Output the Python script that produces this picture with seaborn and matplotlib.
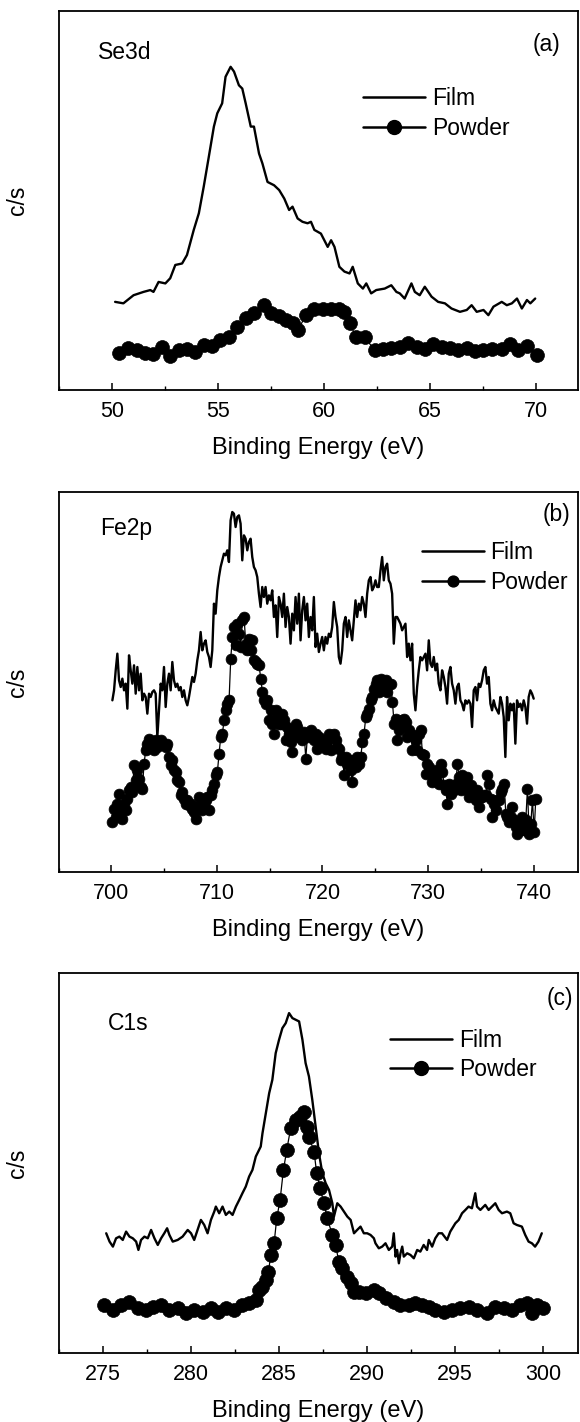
import numpy as np
import matplotlib
matplotlib.use("Agg")
import matplotlib.pyplot as plt
from matplotlib.lines import Line2D
from matplotlib.ticker import MultipleLocator
import seaborn as sns

# ---------------- (a) Se3d ----------------
se_film_energy = [
    50.16, 50.55, 51.03, 51.50, 51.82, 51.97, 52.21, 52.53, 52.76, 53.00,
    53.32, 53.55, 53.87, 54.11, 54.34, 54.58, 54.82, 54.98, 55.21, 55.37,
    55.61, 55.77, 56.00, 56.16, 56.32, 56.56, 56.71, 56.95, 57.11, 57.35,
    57.66, 57.90, 58.14, 58.37, 58.53, 58.77, 59.00, 59.24, 59.40, 59.56,
    59.87, 60.19, 60.35, 60.51, 60.74, 60.98, 61.22, 61.37, 61.61, 61.85,
    62.01, 62.24, 62.48, 62.88, 63.19, 63.43, 63.59, 63.82, 64.14, 64.30,
    64.53, 64.77, 65.09, 65.40, 65.72, 66.03, 66.43, 66.75, 66.98, 67.22,
    67.54, 67.77, 68.01, 68.40, 68.64, 68.88, 69.12, 69.35, 69.59, 69.75,
    69.98,
]
se_film_counts = [
    21.2, 20.8, 23.0, 23.9, 24.4, 23.9, 26.6, 26.2, 27.6, 31.2,
    31.6, 33.9, 40.7, 45.2, 52.4, 60.5, 68.7, 72.3, 75.0, 82.2,
    84.9, 83.6, 79.9, 79.0, 75.0, 68.7, 68.7, 61.4, 58.7, 53.7,
    52.8, 51.5, 49.2, 46.1, 47.0, 43.8, 42.9, 42.5, 42.9, 40.7,
    39.7, 36.1, 37.9, 36.1, 30.7, 29.4, 28.9, 30.7, 26.2, 24.8,
    26.2, 23.5, 24.4, 24.8, 25.7, 23.9, 23.5, 22.1, 26.2, 23.9,
    23.0, 25.3, 22.6, 21.2, 20.8, 19.4, 18.5, 19.0, 20.3, 18.5,
    19.0, 17.6, 19.9, 21.2, 20.3, 20.8, 22.1, 19.4, 21.7, 20.8,
    22.1,
]
se_powder_energy = [
    50.36, 50.79, 51.18, 51.58, 51.97, 52.37, 52.76, 53.16, 53.55, 53.95,
    54.34, 54.74, 55.13, 55.53, 55.92, 56.32, 56.71, 57.19, 57.50, 57.90,
    58.21, 58.53, 58.80, 59.16, 59.56, 59.95, 60.35, 60.74, 60.98, 61.22,
    61.53, 61.93, 62.40, 62.80, 63.19, 63.59, 63.98, 64.38, 64.77, 65.17,
    65.56, 65.96, 66.35, 66.75, 67.14, 67.54, 67.93, 68.40, 68.80, 69.19,
    69.59, 70.06,
]
se_powder_counts = [
    7.4, 8.6, 8.1, 7.4, 7.2, 9.0, 6.5, 8.1, 8.3, 7.7,
    9.5, 9.2, 10.8, 11.7, 14.5, 16.7, 18.1, 20.3, 18.2, 17.3,
    16.4, 15.4, 13.7, 17.6, 19.4, 19.4, 19.4, 19.4, 18.5, 15.5,
    11.7, 11.7, 8.1, 8.3, 8.6, 9.0, 10.1, 9.0, 8.3, 9.9,
    9.0, 8.6, 8.1, 8.6, 7.9, 8.1, 8.3, 8.3, 9.9, 8.1,
    9.2, 6.8,
]

# ---------------- (b) Fe2p (regular energy grid) ----------------
fe_film_start, fe_film_stop = 700.1, 740.0
fe_film_counts = [
    51.5, 54.5, 60.5, 65.5, 57.5, 55.5, 58, 54.5, 56.5, 49, 65, 60.5, 56.5, 62, 53.5, 61.5, 54.5, 59.5, 51.5, 53.5,
    52.5, 47.5, 53.5, 52.5, 54, 54.5, 53.5, 40.5, 48.5, 56.5, 54.5, 61.5, 49.5, 56.5, 59.5, 54.5, 63, 57.5, 55.5, 56.5,
    54.5, 55.5, 52.5, 54.5, 51.5, 50, 52.5, 55.5, 58.5, 57, 59.5, 63.5, 66.5, 72, 66.5, 68.5, 69.5, 66, 64.5, 61.5,
    66.5, 80.5, 77.5, 84.5, 88.5, 91.5, 93.5, 95.5, 95, 96.5, 93, 105.5, 108, 107.5, 103.5, 106.5, 107, 104.5, 93.5, 101,
    100, 96.5, 99, 100, 94.5, 91.5, 90.5, 88.5, 83.5, 79.5, 85.5, 82.5, 85.5, 80.5, 83, 81.5, 84.5, 76.5, 80, 70.5,
    82.5, 80.5, 76.5, 83.5, 73.5, 79.5, 76.5, 68.5, 77.5, 72.5, 82.5, 74.5, 83.5, 69.5, 78.5, 82.5, 75.5, 80.5, 70.5, 76.5,
    72.5, 82.5, 67.5, 71.5, 66, 68.5, 70.5, 66.5, 70.5, 68.5, 71.5, 70.5, 73.5, 81, 76.5, 73.5, 64.5, 62.5, 66.5, 74.5,
    76.5, 70.5, 75.5, 72.5, 69.5, 75.5, 81.5, 76.5, 80.5, 78.5, 82.5, 80.5, 76.5, 83.5, 87.5, 88.5, 84.5, 85.5, 87.5, 85.5,
    85.5, 90.5, 94.5, 87.5, 91.5, 92.5, 87.5, 86.5, 83.5, 68.5, 76.5, 76.5, 75.5, 74.5, 72.5, 73.5, 74.5, 64.5, 68.5, 63.5,
    68.5, 53.5, 48.5, 55.5, 60.5, 64.5, 63.5, 64.5, 65.5, 60.5, 69.5, 62.5, 61.5, 64.5, 60.5, 62.5, 56.5, 54.5, 60.5, 58.5,
    55.5, 50.5, 59.5, 61.5, 56.5, 54.5, 50.5, 55.5, 56.5, 51.5, 50.5, 48.5, 51.5, 50.5, 51.5, 50.5, 43.5, 54.5, 55.5, 51.5,
    56.5, 55.5, 57.5, 60.5, 61.5, 56.5, 58.5, 50.5, 48.5, 51.5, 49.5, 48.5, 47.5, 52.5, 50.5, 46.5, 34.5, 52.5, 45.5, 50.5,
    48.5, 50.5, 38.5, 51.5, 49.5, 50.5, 48.5, 51.5, 49.5, 44.5, 52.5, 54.5, 53.5, 52,
]
fe_powder_start, fe_powder_stop = 700.1, 740.2
fe_powder_counts = [
    15, 19, 16.5, 20.5, 23.5, 18, 16, 20.5, 18.5, 22, 24.5, 25.5, 24, 32, 27.5, 30.5, 28, 25.5, 25, 32.5,
    36.5, 38.5, 40, 37.5, 39, 36.5, 39.5, 37.5, 38.5, 39.5, 38, 38.5, 37.5, 38.5, 34.5, 32, 33.5, 30.5, 30, 27.5,
    27, 23, 24, 22, 20.5, 21.5, 20, 20.5, 19, 18, 16, 19.5, 22.5, 20.5, 18.5, 19.5, 21.5, 22.5, 18.5, 23,
    24.5, 26.5, 29, 30, 35.5, 40.5, 41.5, 45.5, 48.5, 50.5, 51.5, 64, 70.5, 73.5, 68, 74.5, 71.5, 67.5, 75.5, 76.5,
    68.5, 66.5, 70, 66.5, 69.5, 63.5, 63, 62.5, 62, 58, 54, 51.5, 50.5, 51.5, 45.5, 48.5, 44.5, 41.5, 48.5, 46.5,
    44.5, 44.5, 47.5, 45.5, 39.5, 43.5, 41.5, 39, 36, 41.5, 44.5, 43.5, 40.5, 41.5, 39.5, 42, 34, 40.5, 41.5, 42.5,
    40.5, 39.5, 41.5, 37, 40.5, 39, 38.5, 39.5, 37, 39.5, 41.5, 36.5, 40.5, 41.5, 39.5, 37.5, 37, 33.5, 34.5, 29,
    34.5, 32.5, 33.5, 30.5, 27, 33.5, 31.5, 34.5, 32.5, 34.5, 39, 41.5, 46.5, 47.5, 49, 51.5, 52.5, 55, 56.5, 57.5,
    54, 58, 54.5, 56.5, 57.5, 54, 56.5, 56.5, 51, 44.5, 46, 39.5, 42.5, 43.5, 45.5, 46, 45, 40.5, 42.5, 41.5,
    36.5, 40.5, 39.5, 36.5, 41.5, 42.5, 35.5, 35, 29.5, 32.5, 31.5, 30, 27, 28.5, 28, 30.5, 26.5, 32.5, 30, 26,
    24.5, 20.5, 26.5, 23.5, 24.5, 24.5, 26.5, 32.5, 28.5, 24.5, 29, 25, 26.5, 28.5, 22.5, 26, 23, 24.5, 21.5, 24.5,
    19.5, 22.5, 22.5, 23, 23, 29, 26.5, 22, 16.5, 20.5, 18.5, 21.5, 21.5, 24, 25, 26.5, 17.5, 16.5, 15, 16.5,
    19.5, 15.5, 13.5, 11.5, 14.5, 12.5, 16.5, 12.5, 15.5, 25, 11.5, 14.5, 21.5, 12, 22,
]

# ---------------- (c) C1s ----------------
c_film_energy = [
    275.19, 275.38, 275.57, 275.75, 275.94, 276.13, 276.32, 276.51, 276.70, 276.89,
    277.02, 277.17, 277.36, 277.55, 277.74, 277.93, 278.12, 278.31, 278.49, 278.65,
    278.78, 278.97, 279.25, 279.53, 279.82, 280.01, 280.19, 280.38, 280.57, 280.76,
    280.95, 281.14, 281.33, 281.42, 281.61, 281.80, 281.99, 282.18, 282.37, 282.56,
    282.75, 282.93, 283.12, 283.31, 283.50, 283.69, 283.97, 284.07, 284.26, 284.45,
    284.63, 284.82, 285.01, 285.20, 285.39, 285.58, 285.77, 285.96, 286.15, 286.34,
    286.52, 286.71, 286.90, 287.09, 287.28, 287.47, 287.66, 287.85, 288.04, 288.13,
    288.32, 288.51, 288.70, 288.89, 289.08, 289.27, 289.45, 289.64, 289.83, 290.02,
    290.21, 290.40, 290.49, 290.68, 290.87, 291.06, 291.25, 291.44, 291.53, 291.63,
    291.72, 291.82, 291.91, 292.01, 292.10, 292.29, 292.48, 292.67, 292.86, 293.04,
    293.23, 293.42, 293.52, 293.71, 293.89, 294.08, 294.27, 294.56, 294.74, 295.03,
    295.22, 295.41, 295.60, 295.78, 295.97, 296.16, 296.26, 296.45, 296.73, 296.92,
    297.11, 297.30, 297.49, 297.68, 297.96, 298.15, 298.34, 298.52, 298.81, 299.00,
    299.19, 299.38, 299.56, 299.75, 299.94,
]
c_film_counts = [
    35.9, 33.4, 31.9, 34.4, 34.9, 33.9, 36.4, 34.9, 34.4, 33.4,
    30.9, 33.9, 34.9, 34.4, 36.9, 34.4, 32.4, 34.4, 35.9, 37.4,
    35.4, 33.4, 33.9, 34.9, 36.9, 35.9, 33.9, 36.9, 39.9, 38.4,
    35.9, 39.9, 42.4, 43.9, 41.9, 43.9, 41.4, 42.4, 41.4, 43.9,
    45.9, 47.9, 49.9, 52.9, 54.9, 58.9, 61.9, 65.9, 71.9, 77.9,
    81.9, 89.9, 93.9, 97.4, 98.9, 101.9, 100.4, 99.9, 99.4, 93.9,
    86.9, 82.9, 75.9, 67.9, 59.9, 53.9, 50.9, 48.9, 44.9, 40.9,
    44.9, 43.9, 42.4, 40.9, 39.9, 35.9, 36.9, 37.9, 35.9, 35.9,
    35.4, 34.4, 32.9, 31.4, 31.9, 32.9, 30.9, 31.9, 35.9, 28.9,
    30.9, 26.9, 29.9, 31.9, 28.9, 29.9, 29.4, 28.4, 30.9, 30.4,
    32.4, 30.9, 33.9, 31.9, 34.4, 35.9, 35.9, 33.9, 36.4, 38.9,
    39.9, 41.9, 42.9, 43.9, 43.4, 47.9, 43.9, 42.9, 44.4, 42.9,
    43.9, 44.9, 42.9, 41.9, 42.4, 41.9, 38.9, 38.4, 37.9, 35.4,
    33.4, 32.9, 31.9, 33.4, 35.9,
]
c_powder_energy = [
    275.09, 275.57, 276.04, 276.51, 276.98, 277.45, 277.83, 278.30, 278.78, 279.25,
    279.72, 280.19, 280.67, 281.14, 281.52, 281.99, 282.46, 282.93, 283.31, 283.69,
    283.88, 284.07, 284.26, 284.41, 284.54, 284.73, 284.88, 285.07, 285.26, 285.45,
    285.67, 285.96, 286.20, 286.43, 286.62, 286.71, 287.00, 287.15, 287.34, 287.56,
    287.75, 288.04, 288.22, 288.41, 288.60, 288.89, 289.08, 289.26, 289.55, 289.93,
    290.40, 290.68, 291.06, 291.53, 291.91, 292.38, 292.76, 293.13, 293.51, 293.89,
    294.37, 294.84, 295.31, 295.78, 296.26, 296.83, 297.30, 297.77, 298.24, 298.71,
    299.09, 299.37, 299.66, 300.03,
]
c_powder_counts = [
    14.4, 12.9, 14.4, 15.4, 13.4, 12.9, 13.9, 14.4, 12.9, 13.4,
    11.9, 12.9, 12.4, 13.4, 12.4, 13.4, 12.9, 14.4, 14.9, 15.9,
    18.9, 19.9, 21.9, 24.4, 29.4, 32.9, 40.4, 45.9, 54.9, 60.9,
    67.4, 69.9, 70.9, 72.4, 67.9, 64.9, 60.4, 53.9, 49.4, 44.9,
    40.4, 35.4, 32.4, 27.4, 25.4, 22.9, 20.9, 18.4, 18.4, 17.9,
    18.9, 17.9, 16.4, 15.4, 14.4, 14.4, 14.9, 14.4, 13.9, 12.9,
    12.4, 12.9, 13.4, 13.9, 12.9, 11.9, 13.9, 13.4, 12.9, 14.4,
    14.9, 11.9, 14.4, 13.4,
]

fe_film_energy = np.linspace(fe_film_start, fe_film_stop, len(fe_film_counts))
fe_powder_energy = np.linspace(fe_powder_start, fe_powder_stop, len(fe_powder_counts))

sns.set_style("ticks")
plt.rcParams["font.family"] = ["Liberation Sans", "DejaVu Sans"]
plt.rcParams["text.color"] = "black"
plt.rcParams["axes.labelcolor"] = "black"
plt.rcParams["xtick.color"] = "black"
plt.rcParams["ytick.color"] = "black"

fig = plt.figure(figsize=(5.8, 14.22), dpi=100)

panels = [
    dict(name="Se3d", tag="(a)", film=(se_film_energy, se_film_counts),
         powder=(se_powder_energy, se_powder_counts),
         rect=[0.1009, 0.7257, 0.8957, 0.2665], xlim=(47.49, 72.0), ylim=(-2.7, 100),
         major=5, ms=10, name_xy=(0.076, 0.892), tag_xy=(0.966, 0.913),
         leg_xy=(0.586, 0.80)),
    dict(name="Fe2p", tag="(b)", film=(fe_film_energy, fe_film_counts),
         powder=(fe_powder_energy, fe_powder_counts),
         rect=[0.1009, 0.3868, 0.8957, 0.2672], xlim=(695.0, 744.2), ylim=(0, 114),
         major=10, ms=7.8, name_xy=(0.080, 0.905), tag_xy=(0.985, 0.94),
         leg_xy=(0.699, 0.87)),
    dict(name="C1s", tag="(c)", film=(c_film_energy, c_film_counts),
         powder=(c_powder_energy, c_powder_counts),
         rect=[0.1009, 0.0485, 0.8957, 0.2672], xlim=(272.48, 302.0), ylim=(0, 113.9),
         major=5, ms=10, name_xy=(0.095, 0.866), tag_xy=(0.99, 0.934),
         leg_xy=(0.638, 0.854)),
]

for p in panels:
    ax = fig.add_axes(p["rect"])
    sns.lineplot(x=p["film"][0], y=p["film"][1], ax=ax, color="black", lw=1.7,
                 sort=False, estimator=None)
    sns.lineplot(x=p["powder"][0], y=p["powder"][1], ax=ax, color="black", lw=0.9,
                 marker="o", markersize=p["ms"], markeredgecolor="black",
                 markeredgewidth=0.5, sort=False, estimator=None)

    ax.set_xlim(*p["xlim"])
    ax.set_ylim(*p["ylim"])
    ax.xaxis.set_major_locator(MultipleLocator(p["major"]))
    ax.xaxis.set_minor_locator(MultipleLocator(p["major"] / 2))
    ax.tick_params(axis="x", which="major", direction="in", length=5, width=1.1,
                   labelsize=15.5, pad=8, top=False)
    ax.tick_params(axis="x", which="minor", direction="in", length=3, width=1.0, top=False)
    ax.tick_params(axis="y", left=False, labelleft=False, right=False)
    for s in ax.spines.values():
        s.set_linewidth(1.3)
        s.set_color("black")

    ax.set_xlabel("Binding Energy (eV)", fontsize=17, labelpad=11)
    ax.set_ylabel("c/s", fontsize=16.5)
    ax.yaxis.set_label_coords(-0.057, 0.5)

    ax.text(p["name_xy"][0], p["name_xy"][1], p["name"], transform=ax.transAxes,
            fontsize=16.5, ha="left", va="center")
    ax.text(p["tag_xy"][0], p["tag_xy"][1], p["tag"], transform=ax.transAxes,
            fontsize=16.5, ha="right", va="center")

    handles = [
        Line2D([], [], color="black", lw=1.8),
        Line2D([], [], color="black", lw=1.8, marker="o", markersize=p["ms"]),
    ]
    ax.legend(handles, ["Film", "Powder"], loc="upper left", bbox_to_anchor=p["leg_xy"],
              frameon=False, fontsize=16.5, handlelength=2.7, handletextpad=0.3,
              labelspacing=0.3, borderpad=0, borderaxespad=0)

fig.savefig("out.png", dpi=100)
